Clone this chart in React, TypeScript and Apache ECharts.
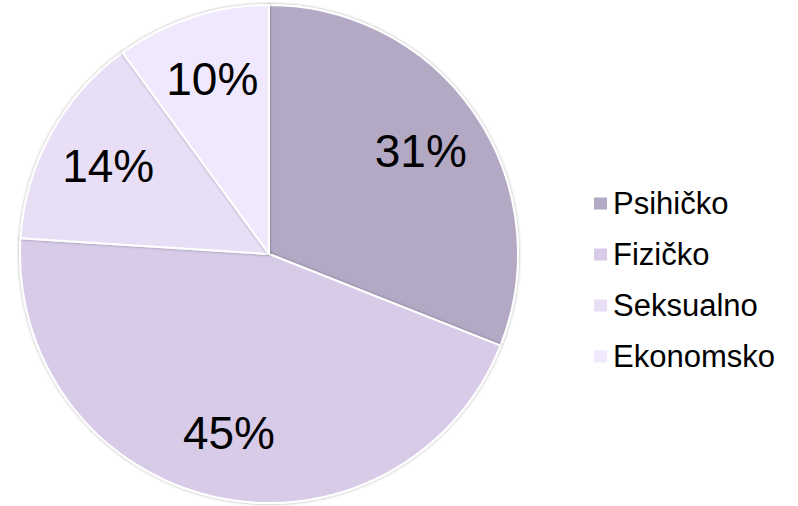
import React, { useEffect, useRef } from "react";
import * as echarts from "echarts";

const categories = ["Psihičko", "Fizičko", "Seksualno", "Ekonomsko"];
const values = [31, 45, 14, 10];
const colors = ["#B3A9C5", "#D7CBE8", "#E8DFF7", "#F0E8FC"];

export default function App() {
  const ref = useRef<HTMLDivElement>(null);
  useEffect(() => {
    if (!ref.current) return;
    const chart = echarts.init(ref.current, undefined, { renderer: "svg" });
    const data = categories.map((name, i) => ({
      name,
      value: values[i],
      itemStyle: { color: colors[i] },
    }));
    chart.setOption({
      animation: false,
      textStyle: { fontFamily: "Liberation Sans, Arial, sans-serif" },
      legend: {
        orient: "vertical",
        left: 592,
        top: 188,
        padding: 0,
        itemWidth: 15,
        itemHeight: 14,
        itemGap: 20,
        icon: "rect",
        data: categories,
        textStyle: {
          fontSize: 31,
          color: "#000",
          fontFamily: "Liberation Sans, Arial, sans-serif",
          padding: [0, 0, 0, 0],
        },
      },
      series: [
        {
          type: "pie",
          center: [269, 254],
          radius: [0, 249],
          startAngle: 90,
          clockwise: true,
          silent: true,
          label: { show: false },
          labelLine: { show: false },
          itemStyle: {
            borderColor: "#fff",
            borderWidth: 2,
            shadowBlur: 3,
            shadowColor: "rgba(0,0,0,0.35)",
          },
          data,
        },
        {
          type: "pie",
          center: [269, 254],
          radius: [112, 249],
          startAngle: 90,
          clockwise: true,
          silent: true,
          legendHoverLink: false,
          itemStyle: { color: "rgba(0,0,0,0)", borderWidth: 0 },
          label: {
            show: true,
            position: "inside",
            formatter: "{c}%",
            fontSize: 46,
            color: "#000",
            fontFamily: "Liberation Sans, Arial, sans-serif",
          },
          labelLine: { show: false },
          data: categories.map((name, i) => ({ name: name + " ", value: values[i] })),
        },
      ],
    });
    return () => chart.dispose();
  }, []);
  return (
    <div
      ref={ref}
      style={{ position: "fixed", left: 0, top: 0, width: 798, height: 506, background: "#fff" }}
    />
  );
}
